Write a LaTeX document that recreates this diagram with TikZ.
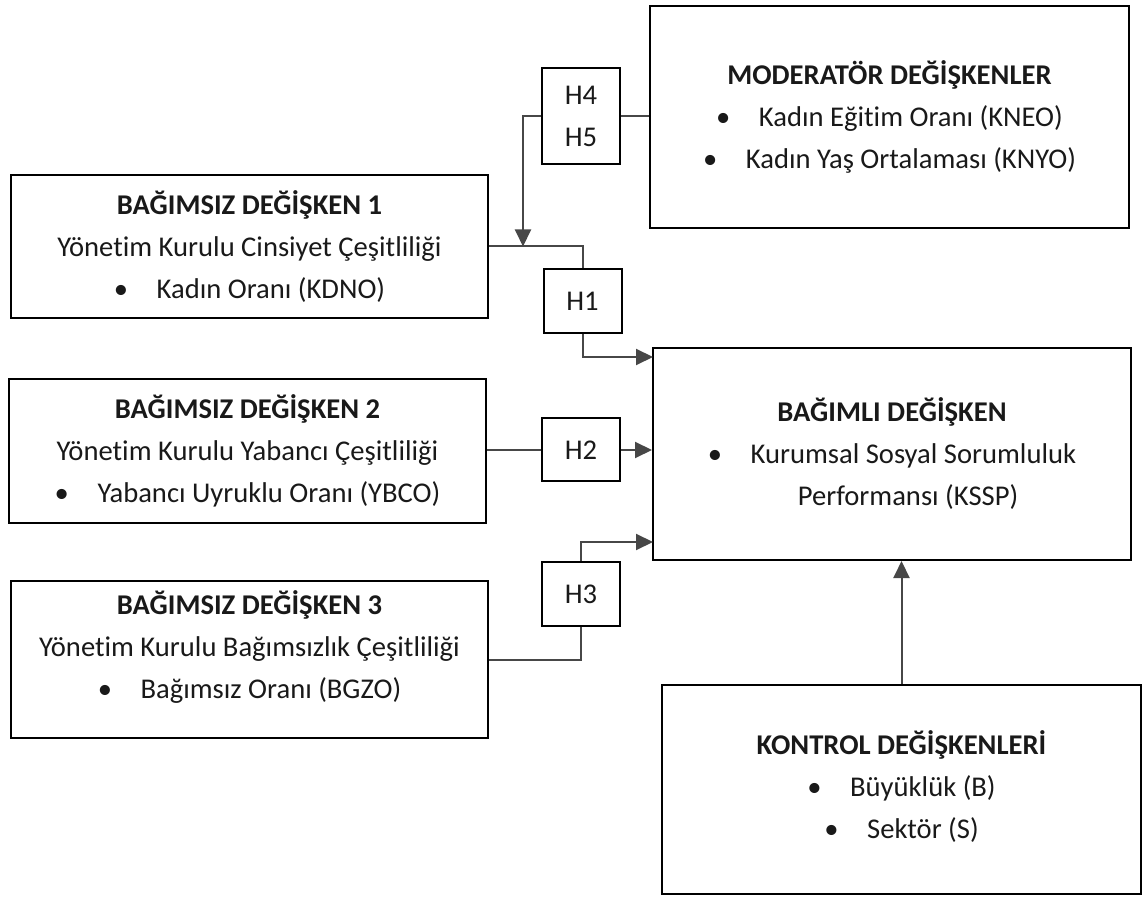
\documentclass[tikz,border=0pt]{standalone}
\usepackage{fontspec}
\setmainfont{Carlito}[Ligatures={NoCommon}]
\usetikzlibrary{arrows.meta}
\begin{document}
\begin{tikzpicture}[x=0.5pt,y=-0.5pt,
  box/.style={draw=black, line width=1pt, inner sep=0pt, align=center,
    font=\fontsize{14.3}{21}\selectfont, text=black!90},
  hbox/.style={box, minimum width=39pt},
  conn/.style={draw=black!72, line width=1pt},
  arr/.style={conn, -{Triangle[length=8.5pt,width=8pt]}}]
\useasboundingbox (0,0) rectangle (1145,897);

\node[box, minimum width=238.5pt, minimum height=71.5pt] (b1) at (249.5,246.5)
  {\textbf{BAĞIMSIZ DEĞİŞKEN 1}\\Yönetim Kurulu Cinsiyet Çeşitliliği\\\textbullet\hspace{1em}Kadın Oranı (KDNO)};
\node[box, minimum width=238.5pt, minimum height=72pt] (b2) at (247.5,451)
  {\textbf{BAĞIMSIZ DEĞİŞKEN 2}\\Yönetim Kurulu Yabancı Çeşitliliği\\\textbullet\hspace{1em}Yabancı Uyruklu Oranı (YBCO)};
\node[box, minimum width=238.5pt, minimum height=78.5pt] (b3) at (249.5,659.5)
  {\textbf{BAĞIMSIZ DEĞİŞKEN 3}\\Yönetim Kurulu Bağımsızlık Çeşitliliği\\\textbullet\hspace{1em}Bağımsız Oranı (BGZO)\\[-6pt]\mbox{}};
\node[box, minimum width=239.5pt, minimum height=111pt] (mod) at (889.5,117)
  {\textbf{MODERATÖR DEĞİŞKENLER}\\\textbullet\hspace{1em}Kadın Eğitim Oranı (KNEO)\\\textbullet\hspace{1em}Kadın Yaş Ortalaması (KNYO)};
\node[box, minimum width=239pt, minimum height=106pt] (dep) at (892,454)
  {\textbf{BAĞIMLI DEĞİŞKEN}\\\textbullet\hspace{1em}Kurumsal Sosyal Sorumluluk\\\hspace*{16pt}Performansı (KSSP)};
\node[box, minimum width=239.5pt, minimum height=104.5pt] (ctrl) at (901.5,789.5)
  {\mbox{}\\[-12pt]\textbf{KONTROL DEĞİŞKENLERİ}\\\textbullet\hspace{1em}Büyüklük (B)\\\textbullet\hspace{1em}Sektör (S)};

\node[hbox, minimum height=48pt] (h45) at (581,116) {H4\\H5};
\node[hbox, minimum height=32pt] (h1) at (582.5,301) {H1};
\node[hbox, minimum height=31.5pt] (h2) at (581,450) {H2};
\node[hbox, minimum height=32pt] (h3) at (581,594) {H3};

\coordinate (j) at (523,246.5);
\coordinate (in1) at (653,357);
\coordinate (in3) at (653,542);

\draw[conn] (h45.east) -- (h45.east -| mod.west);
\draw[arr] (h45.west) -| (j);
\draw[conn] (b1.east) -| (h1.north);
\draw[arr] (h1.south) |- (in1);
\draw[conn] (b2.east |- h2.west) -- (h2.west);
\draw[arr] (h2.east) -- (h2.east -| dep.west);
\draw[conn] (b3.east) -| (h3.south);
\draw[arr] (h3.north) |- (in3);
\draw[arr] (ctrl.north) -- (ctrl.north |- dep.south);
\end{tikzpicture}
\end{document}
